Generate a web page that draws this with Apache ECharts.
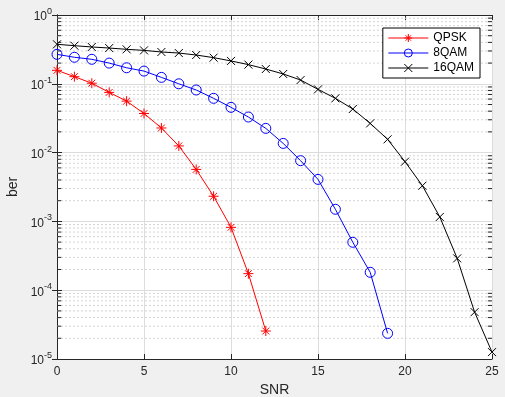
<!DOCTYPE html>
<html>
<head>
<meta charset="utf-8">
<script src="https://cdn.jsdelivr.net/npm/echarts@6/dist/echarts.min.js"></script>
<style>
  html, body { margin: 0; padding: 0; background: #f0f0f0; }
  #chart { width: 505px; height: 397px; }
</style>
</head>
<body>
<div id="chart"></div>
<script>
const snr = [0, 1, 2, 3, 4, 5, 6, 7, 8, 9, 10, 11, 12, 13, 14, 15, 16, 17, 18, 19, 20, 21, 22, 23, 24, 25];
const qpsk = [0.157, 0.127, 0.102, 0.075, 0.056, 0.037, 0.0228, 0.0125, 0.0057, 0.00232, 8.2e-4, 1.74e-4, 2.55e-5];
const qam8 = [0.268, 0.243, 0.227, 0.2, 0.171, 0.153, 0.124, 0.1, 0.0813, 0.0615, 0.0455, 0.0329, 0.0225,
  0.0136, 0.00763, 0.00408, 0.0015, 4.97e-4, 1.82e-4, 2.36e-5];
const qam16 = [0.375, 0.358, 0.343, 0.331, 0.317, 0.306, 0.29, 0.28, 0.262, 0.24, 0.215, 0.19, 0.164,
  0.139, 0.1135, 0.083, 0.0615, 0.043, 0.0266, 0.0156, 0.00738, 0.0033, 0.00116, 2.9e-4, 4.8e-5, 1.26e-5];
const names = ['QPSK', '8QAM', '16QAM'];
const xTicks = [0, 5, 10, 15, 20, 25];
const decades = [-5, -4, -3, -2, -1];

const pairs = (ys) => ys.map((v, i) => [snr[i], v]);

// minor grid values 2..9 x 10^k
const minorVals = [];
decades.forEach((k) => {
  for (let m = 2; m <= 9; m++) minorVals.push(m * Math.pow(10, k));
});
const segs = (x0, x1) => {
  const out = [];
  minorVals.forEach((v) => { out.push([x0, v], [x1, v], [x1, '-']); });
  return out;
};

const asterisk = 'path://M5,0L5,10M0,5L10,5M1.6,1.6L8.4,8.4M8.4,1.6L1.6,8.4';
const cross = 'path://M0,0L10,10M10,0L0,10';
const axisColor = '#262626';
const font = 'Liberation Sans, Arial, sans-serif';

const chart = echarts.init(document.getElementById('chart'));

const yLabel = {
  fontFamily: font,
  color: axisColor,
  margin: 5,
  formatter: (v) => '{b|10}{s|' + Math.round(Math.log10(v)) + '}',
  rich: {
    b: { fontSize: 12, fontFamily: font, color: axisColor, padding: [4, 0, 0, 0] },
    s: { fontSize: 9, fontFamily: font, color: axisColor, padding: [0, 0, 7, 0] }
  }
};

const helperLine = (name, data, style) => ({
  name: name,
  type: 'line',
  data: data,
  symbol: 'none',
  silent: true,
  connectNulls: false,
  lineStyle: style,
  z: 1
});

chart.setOption({
  backgroundColor: '#f0f0f0',
  animation: false,
  grid: { left: 57, right: 13, top: 15, bottom: 38, show: true, backgroundColor: '#fff', borderWidth: 0,
    containLabel: false, outerBoundsMode: 'none' },
  legend: {
    data: names,
    orient: 'vertical',
    right: 25,
    top: 28,
    backgroundColor: '#fff',
    borderColor: '#000',
    borderWidth: 1,
    borderRadius: 0,
    padding: [4, 6, 4, 5],
    itemGap: 3,
    itemWidth: 40,
    itemHeight: 10,
    itemStyle: { borderWidth: 1 },
    lineStyle: { width: 1 },
    textStyle: { fontFamily: font, fontSize: 12, color: '#000' }
  },
  xAxis: [{
    type: 'value',
    min: 0, max: 25, interval: 5,
    name: 'SNR',
    nameLocation: 'middle',
    nameGap: 23,
    nameTextStyle: { fontFamily: font, fontSize: 14, color: axisColor },
    axisLine: { lineStyle: { color: axisColor } },
    axisTick: { inside: true, length: 5, lineStyle: { color: axisColor } },
    axisLabel: { fontFamily: font, fontSize: 12, color: axisColor, margin: 7,
      formatter: (v) => xTicks.includes(v) ? String(v) : '' },
    splitLine: { show: true, lineStyle: { color: '#dcdcdc' } }
  }, {
    type: 'value', position: 'top',
    min: 0, max: 25, interval: 5,
    axisLine: { show: true, lineStyle: { color: axisColor } },
    axisTick: { inside: true, length: 5, lineStyle: { color: axisColor } },
    axisLabel: { show: false },
    splitLine: { show: false }
  }],
  yAxis: [{
    type: 'log',
    min: 1e-5, max: 1,
    logBase: 10,
    name: 'ber',
    nameLocation: 'middle',
    nameGap: 33,
    nameTextStyle: { fontFamily: font, fontSize: 14, color: axisColor },
    axisLine: { show: true, lineStyle: { color: axisColor } },
    axisTick: { inside: true, length: 5, lineStyle: { color: axisColor } },
    axisLabel: yLabel,
    splitLine: { show: true, lineStyle: { color: '#dcdcdc' } }
  }, {
    type: 'log', position: 'right',
    min: 1e-5, max: 1,
    logBase: 10,
    axisLine: { show: true, lineStyle: { color: axisColor } },
    axisTick: { inside: true, length: 5, lineStyle: { color: axisColor } },
    axisLabel: { show: false },
    splitLine: { show: false }
  }],
  series: [
    helperLine('minorGrid', segs(0, 25), { color: '#d4d4d4', type: [2, 2], width: 1 }),
    helperLine('minorTickL', segs(0, 0.24), { color: axisColor, width: 1 }),
    helperLine('minorTickR', segs(24.76, 25), { color: axisColor, width: 1 }),
    {
      name: names[0],
      type: 'line',
      data: pairs(qpsk),
      symbol: asterisk,
      symbolSize: 10,
      showAllSymbol: true,
      lineStyle: { color: '#ff0000', width: 1 },
      itemStyle: { color: '#ff0000', borderColor: '#ff0000', borderWidth: 1 },
      z: 5
    }, {
      name: names[1],
      type: 'line',
      data: pairs(qam8),
      symbol: 'circle',
      symbolSize: 10,
      showAllSymbol: true,
      lineStyle: { color: '#0000ff', width: 1 },
      itemStyle: { color: 'rgba(0,0,0,0)', borderColor: '#0000ff', borderWidth: 1 },
      z: 4
    }, {
      name: names[2],
      type: 'line',
      data: pairs(qam16),
      symbol: cross,
      symbolSize: 8,
      showAllSymbol: true,
      lineStyle: { color: '#000', width: 1 },
      itemStyle: { color: '#000', borderColor: '#000', borderWidth: 1 },
      z: 3
    }
  ]
});
</script>
</body>
</html>
